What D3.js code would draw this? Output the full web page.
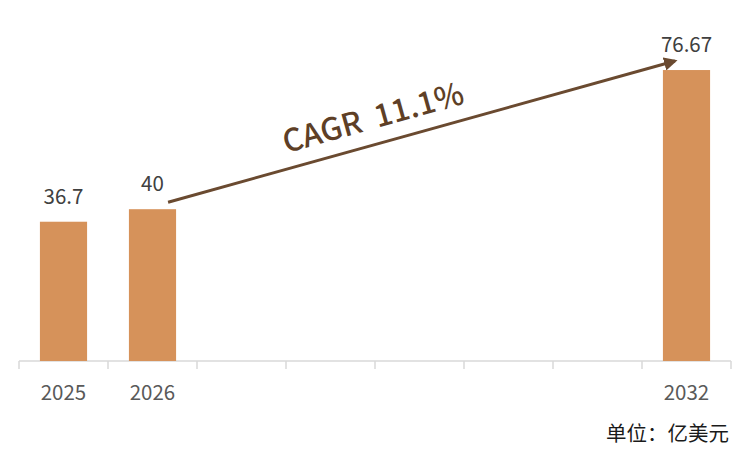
<!DOCTYPE html>
<html>
<head>
<meta charset="utf-8">
<script src="https://cdn.jsdelivr.net/npm/d3@7"></script>
<style>
  body { margin: 0; background: #fff; }
  text { font-family: "Noto Sans CJK SC", "Noto Sans", sans-serif; }
</style>
</head>
<body>
<div id="chart"></div>
<script>
"use strict";

// data
var years = ["2025", "2026", "2027", "2028", "2029", "2030", "2031", "2032"];
var barYears = ["2025", "2026", "2032"];
var barValues = [36.7, 40, 76.67];
var valueLabels = ["36.7", "40", "76.67"];
var cagrLabel = "CAGR 11.1%";
var unitLabel = "单位：亿美元";

var width = 750, height = 460;
var margin = {top: 20, right: 19, bottom: 99, left: 19};

var svg = d3.select("#chart")
            .append("svg")
            .attr("width", width)
            .attr("height", height);

var x = d3.scaleBand()
          .domain(years)
          .range([margin.left, width - margin.right])
          .paddingInner(0.47)
          .paddingOuter(0.235);

var y = d3.scaleLinear()
          .domain([0, 80])
          .range([height - margin.bottom, height - margin.bottom - 80 * 3.795]);

var bars = barYears.map(function(d, i){ return {year: d, value: barValues[i], label: valueLabels[i]}; });

// x axis
var xaxisGroup = svg.append("g")
                    .attr("class", "axis xaxis")
                    .attr("transform", "translate(0," + y(0) + ")");

var band = x.step();
var tickPos = d3.range(years.length + 1).map(function(i){ return margin.left + i * band; });

xaxisGroup.append("line")
          .attr("x1", margin.left)
          .attr("x2", width - margin.right)
          .attr("stroke", "#d9d9d9")
          .attr("stroke-width", 1.5);

xaxisGroup.selectAll("line.tick")
          .data(tickPos)
          .enter()
          .append("line")
          .attr("class", "tick")
          .attr("x1", function(d){ return d; })
          .attr("x2", function(d){ return d; })
          .attr("y1", 0)
          .attr("y2", 8)
          .attr("stroke", "#d9d9d9")
          .attr("stroke-width", 1.5);

xaxisGroup.selectAll("text")
          .data(barYears)
          .enter()
          .append("text")
          .attr("x", function(d){ return x(d) + x.bandwidth() / 2; })
          .attr("y", 38.5)
          .attr("text-anchor", "middle")
          .attr("font-size", 20.5)
          .attr("fill", "#595959")
          .text(function(d){ return d; });

// bars
svg.append("g")
   .attr("class", "bars")
   .selectAll("rect")
   .data(bars)
   .enter()
   .append("rect")
   .attr("x", function(d){ return x(d.year); })
   .attr("width", x.bandwidth())
   .attr("y", function(d){ return y(d.value); })
   .attr("height", function(d){ return y(0) - y(d.value); })
   .attr("fill", "#d6925a");

// value labels
svg.append("g")
   .attr("class", "labels")
   .selectAll("text")
   .data(bars)
   .enter()
   .append("text")
   .attr("x", function(d){ return x(d.year) + x.bandwidth() / 2; })
   .attr("y", function(d){ return y(d.value) - 18; })
   .attr("text-anchor", "middle")
   .attr("font-size", 20.5)
   .attr("fill", "#404040")
   .text(function(d){ return d.label; });

// CAGR arrow
svg.append("defs")
   .append("marker")
   .attr("id", "arrow")
   .attr("viewBox", "0 0 10 10")
   .attr("refX", 8)
   .attr("refY", 5)
   .attr("markerWidth", 4.5)
   .attr("markerHeight", 4.5)
   .attr("orient", "auto")
   .append("path")
   .attr("d", "M0,0 L10,5 L0,10 Z")
   .attr("fill", "#6a4a30");

var x1 = x("2026") + x.bandwidth() - 8, y1 = y(40) - 7;
var x2 = x("2032") + 12, y2 = y(76.67) - 9;

svg.append("line")
   .attr("x1", x1)
   .attr("y1", y1)
   .attr("x2", x2)
   .attr("y2", y2)
   .attr("stroke", "#6a4a30")
   .attr("stroke-width", 3)
   .attr("marker-end", "url(#arrow)");

var angle = Math.atan2(y2 - y1, x2 - x1) * 180 / Math.PI;
var mx = 376, my = y1 + (mx - x1) * (y2 - y1) / (x2 - x1) - 16;

svg.append("text")
   .attr("transform", "translate(" + mx + "," + my + ") rotate(" + angle + ")")
   .attr("text-anchor", "middle")
   .attr("font-size", 31)
   .attr("font-weight", 500)
   .attr("fill", "#5e3f26")
   .attr("xml:space", "preserve")
   .text(cagrLabel.replace(" ", "  "));

// unit
svg.append("text")
   .attr("x", 729)
   .attr("y", 441)
   .attr("text-anchor", "end")
   .attr("font-size", 20.5)
   .attr("fill", "#1a1a1a")
   .text(unitLabel);
</script>
</body>
</html>
